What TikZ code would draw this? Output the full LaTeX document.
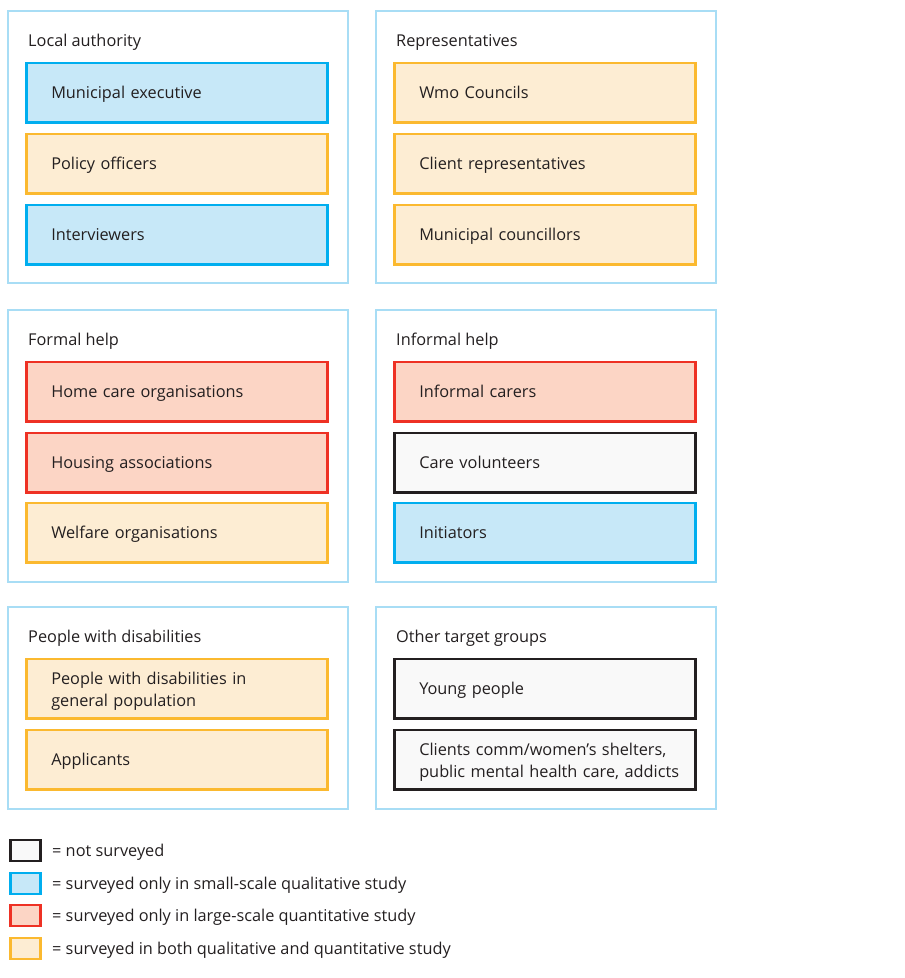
\documentclass[tikz,border=0pt]{standalone}
\usepackage{fontspec}
\setmainfont{Open Sans}
\definecolor{outerc}{HTML}{A8DDF5}
\definecolor{blueb}{HTML}{00AEEF}
\definecolor{bluef}{HTML}{C7E8F8}
\definecolor{orangeb}{HTML}{FBB92F}
\definecolor{orangef}{HTML}{FDEDD3}
\definecolor{redb}{HTML}{EE3124}
\definecolor{redf}{HTML}{FCD5C5}
\definecolor{blackb}{HTML}{231F20}
\definecolor{blackf}{HTML}{F9F9F9}
\definecolor{txt}{HTML}{231F20}
\begin{document}
\begin{tikzpicture}[x=1pt,y=-1pt,
  every node/.style={font=\fontsize{16.3}{22}\selectfont, text=txt},
  group/.style={draw=outerc, line width=2pt, fill=white},
  item/.style={line width=2.5pt, anchor=north west, outer sep=0pt, minimum width=301pt, minimum height=59.5pt,
     text width=251pt, inner xsep=25pt, inner ysep=0pt, align=left},
  one/.style={text height=14pt, text depth=2pt},
  two/.style={text height=17pt},
  qual/.style={item, draw=blueb, fill=bluef},
  both/.style={item, draw=orangeb, fill=orangef},
  quant/.style={item, draw=redb, fill=redf},
  none/.style={item, draw=blackb, fill=blackf},
  title/.style={anchor=west, inner sep=0pt, one},
  lsq/.style={line width=2.5pt, anchor=north west, outer sep=0pt, minimum width=30pt, minimum height=21pt, inner sep=0pt},
  ltxt/.style={anchor=west, inner sep=0pt, one}]
\useasboundingbox (0,0) rectangle (905,978);
% groups
\draw[group] (8,11) rectangle (348,283);
\draw[group] (376,11) rectangle (716,283);
\draw[group] (8,310) rectangle (348,582);
\draw[group] (376,310) rectangle (716,582);
\draw[group] (8,607) rectangle (348,809);
\draw[group] (376,607) rectangle (716,809);
% titles
\node[title] (t1) at (28,40) {Local authority};
\node[title] (t2) at (396,40) {Representatives};
\node[title] (t3) at (28,339) {Formal help};
\node[title] (t4) at (396,339) {Informal help};
\node[title] (t5) at (28,636) {People with disabilities};
\node[title] (t6) at (396,636) {Other target groups};
% local authority
\node[qual, one] (a1) at (26.25,62.75) {Municipal executive};
\node[both, one] (a2) at (26.25,133.75) {Policy officers};
\node[qual, one] (a3) at (26.25,204.75) {Interviewers};
% representatives
\node[both, one] (b1) at (394.25,62.75) {Wmo Councils};
\node[both, one] (b2) at (394.25,133.75) {Client representatives};
\node[both, one] (b3) at (394.25,204.75) {Municipal councillors};
% formal help
\node[quant, one] (c1) at (26.25,361.75) {Home care organisations};
\node[quant, one] (c2) at (26.25,432.75) {Housing associations};
\node[both, one] (c3) at (26.25,502.75) {Welfare organisations};
% informal help
\node[quant, one] (d1) at (394.25,361.75) {Informal carers};
\node[none, one] (d2) at (394.25,432.75) {Care volunteers};
\node[qual, one] (d3) at (394.25,502.75) {Initiators};
% people with disabilities
\node[both, two] (e1) at (26.25,658.75) {People with disabilities in\\general population};
\node[both, one] (e2) at (26.25,729.75) {Applicants};
% other target groups
\node[none, one] (f1) at (394.25,658.75) {Young people};
\node[none, two] (f2) at (394.25,729.75) {\mbox{Clients comm/women’s shelters,}\\\mbox{public mental health care, addicts}};
% legend
\node[lsq, draw=blackb, fill=blackf] (l1) at (10.25,839.75) {};
\node[lsq, draw=blueb, fill=bluef] (l2) at (10.25,872.75) {};
\node[lsq, draw=redb, fill=redf] (l3) at (10.25,904.75) {};
\node[lsq, draw=orangeb, fill=orangef] (l4) at (10.25,937.75) {};
\node[ltxt] (lt1) at (52,850) {= not surveyed};
\node[ltxt] (lt2) at (52,883) {= surveyed only in small-scale qualitative study};
\node[ltxt] (lt3) at (52,915) {= surveyed only in large-scale quantitative study};
\node[ltxt] (lt4) at (52,948) {= surveyed in both qualitative and quantitative study};
\end{tikzpicture}
\end{document}
